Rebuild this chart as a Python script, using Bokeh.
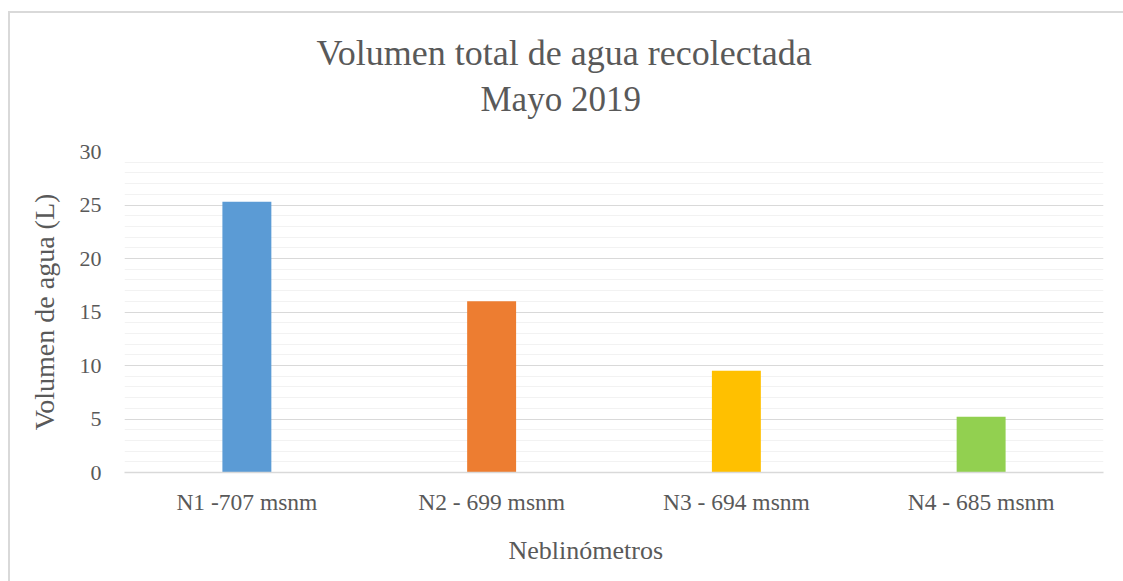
from bokeh.plotting import figure
from bokeh.models import ColumnDataSource, SingleIntervalTicker, Title, Range1d
from bokeh.embed import file_html
from bokeh.resources import INLINE

categories = ["N1 -707 msnm", "N2 - 699 msnm", "N3 - 694 msnm", "N4 - 685 msnm"]
values = [25.3, 16.0, 9.5, 5.2]
colors = ["#5B9BD5", "#ED7D31", "#FFC000", "#92D050"]
title_lines = ["Volumen total de agua recolectada", "Mayo 2019"]
y_label = "Volumen de agua (L)"
x_label = "Neblinómetros"

FONT = "Liberation Serif"
TXT = "#595959"

src = ColumnDataSource(dict(cat=categories, val=values, col=colors))

p = figure(x_range=categories, y_range=Range1d(0, 30), width=1123, height=581,
           output_backend="svg", toolbar_location=None,
           min_border_left=124, min_border_right=20, min_border_top=151, min_border_bottom=109)
p.outline_line_color = None
p.background_fill_color = "white"
p.border_fill_alpha = 0
grad = "linear-gradient(#d9d9d9, #d9d9d9)"
p.styles = {
    "background": f"{grad} 8px 11px / 100% 2px no-repeat, {grad} 8px 11px / 2px 100% no-repeat, white",
}

p.vbar(x="cat", top="val", width=0.2, fill_color="col", line_color=None, source=src)

# y axis
p.yaxis.ticker = SingleIntervalTicker(interval=5, num_minor_ticks=5)
p.yaxis.axis_line_color = None
p.yaxis.major_tick_line_color = None
p.yaxis.minor_tick_line_color = None
p.yaxis.major_tick_out = 0
p.yaxis.major_tick_in = 0
p.yaxis.major_label_standoff = 19
p.yaxis.major_label_text_font = FONT
p.yaxis.major_label_text_font_size = "22px"
p.yaxis.major_label_text_color = TXT
p.yaxis.axis_label = y_label
p.yaxis.axis_label_text_font = FONT
p.yaxis.axis_label_text_font_size = "28px"
p.yaxis.axis_label_text_font_style = "normal"
p.yaxis.axis_label_text_color = TXT
p.yaxis.axis_label_standoff = 17

# x axis
p.xaxis.axis_line_color = "#d9d9d9"
p.xaxis.axis_line_width = 1.5
p.xaxis.major_tick_line_color = None
p.xaxis.minor_tick_line_color = None
p.xaxis.major_tick_out = 0
p.xaxis.major_tick_in = 0
p.xaxis.major_label_standoff = 16
p.xaxis.major_label_text_font = FONT
p.xaxis.major_label_text_font_size = "23.5px"
p.xaxis.major_label_text_color = TXT

# grid
p.xgrid.grid_line_color = None
p.ygrid.grid_line_color = "#d9d9d9"
p.ygrid.grid_line_width = 1
p.ygrid.minor_grid_line_color = "#f2f2f2"
p.ygrid.minor_grid_line_width = 1

# "above" panels: first added sits nearest the frame; p.title is outermost
p.add_layout(Title(text=" ", text_font=FONT, text_font_size="1px", standoff=30), "above")
p.add_layout(Title(text=title_lines[1], align="left", offset=356, text_font=FONT,
                   text_font_size="35px", text_font_style="normal", text_color=TXT,
                   standoff=0), "above")
p.title.text = title_lines[0]
p.title.align = "left"
p.title.offset = 192
p.title.text_font = FONT
p.title.text_font_size = "36px"
p.title.text_font_style = "normal"
p.title.text_color = TXT
p.title.standoff = 10

# x axis title, placed like the reference (centred on the chart area)
p.add_layout(Title(text=x_label, align="left", offset=384, text_font=FONT,
                   text_font_size="26px", text_font_style="normal", text_color=TXT,
                   standoff=33), "below")

open("out.html", "w").write(file_html(p, INLINE))
